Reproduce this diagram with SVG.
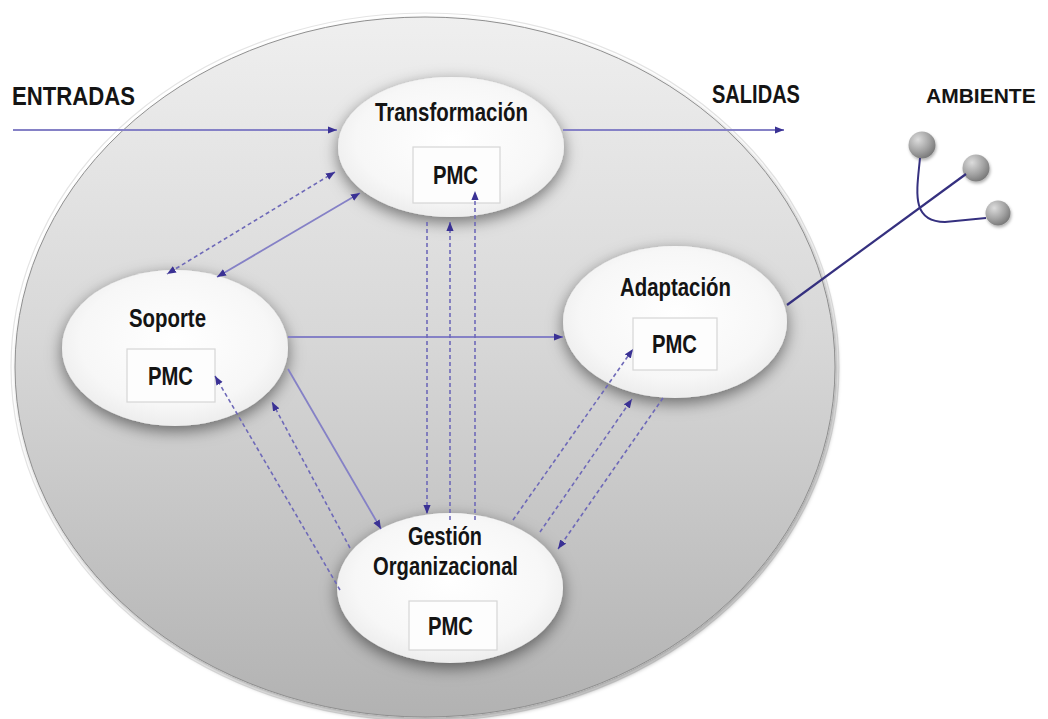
<svg xmlns="http://www.w3.org/2000/svg" width="1048" height="719" viewBox="0 0 1048 719">
<style>
.lbl{font-family:"Liberation Sans",Arial,sans-serif;font-weight:bold;font-size:25px;fill:#141414}
.pmc{font-family:"Liberation Sans",Arial,sans-serif;font-weight:bold;font-size:25px;fill:#141414}
.node{fill:url(#nodeG);filter:url(#sh)}
.box{fill:#fdfdfd;stroke:#d6d6d6;stroke-width:1.2}
.sol{fill:none;stroke:#8581c6;stroke-width:1.8}
.dash{fill:none;stroke:#6e69b8;stroke-width:1.6;stroke-dasharray:4 3}
.ball{fill:url(#ballG);filter:url(#bsh)}
</style>
<defs>
<linearGradient id="bigG" x1="0" y1="0" x2="0" y2="1">
<stop offset="0" stop-color="#efefef"/>
<stop offset="0.45" stop-color="#d8d8d8"/>
<stop offset="1" stop-color="#b2b2b2"/>
</linearGradient>
<radialGradient id="nodeG" cx="0.5" cy="0.45" r="0.6">
<stop offset="0" stop-color="#ffffff"/>
<stop offset="0.7" stop-color="#f7f7f7"/>
<stop offset="1" stop-color="#e9e9e9"/>
</radialGradient>
<radialGradient id="ballG" cx="0.35" cy="0.3" r="0.75">
<stop offset="0" stop-color="#dcdcdc"/>
<stop offset="0.6" stop-color="#a2a2a2"/>
<stop offset="1" stop-color="#767676"/>
</radialGradient>
<filter id="sh" x="-30%" y="-30%" width="160%" height="170%">
<feDropShadow dx="0" dy="5" stdDeviation="8" flood-color="#000" flood-opacity="0.5"/>
</filter>
<filter id="bigsh" x="-10%" y="-10%" width="120%" height="120%">
<feDropShadow dx="2" dy="3" stdDeviation="2" flood-color="#000" flood-opacity="0.35"/>
</filter>
<filter id="bsh" x="-50%" y="-50%" width="200%" height="200%">
<feDropShadow dx="1" dy="2" stdDeviation="1.5" flood-color="#000" flood-opacity="0.3"/>
</filter>
<marker id="ah" viewBox="0 0 10 8" refX="10" refY="4" markerWidth="9" markerHeight="8" markerUnits="userSpaceOnUse" orient="auto-start-reverse">
<path d="M0,0 L10,4 L0,8 z" fill="#3a3194"/>
</marker>
</defs>

<g id="system">
<ellipse cx="425" cy="367" rx="414" ry="354" fill="none" stroke="#e4e4e4" stroke-width="1.2"/>
<ellipse cx="425" cy="367" rx="410" ry="350" fill="url(#bigG)" stroke="#8f8f8f" stroke-width="1" filter="url(#bigsh)"/>
</g>

<g id="labels">
<text class="lbl" x="12" y="105" textLength="123" lengthAdjust="spacingAndGlyphs">ENTRADAS</text>
<text class="lbl" x="712" y="103" textLength="88" lengthAdjust="spacingAndGlyphs">SALIDAS</text>
<text class="lbl" x="926" y="103" style="font-size:21px">AMBIENTE</text>
</g>

<g id="transformacion">
<ellipse class="node" cx="451" cy="147" rx="113" ry="70"/>
<text class="lbl" x="375" y="121" textLength="153" lengthAdjust="spacingAndGlyphs">Transformación</text>
<rect class="box" x="413" y="147" width="87" height="56"/>
<text class="pmc" x="433" y="184" textLength="45" lengthAdjust="spacingAndGlyphs">PMC</text>
</g>

<g id="soporte">
<ellipse class="node" cx="175" cy="348" rx="113" ry="78"/>
<text class="lbl" x="129" y="327" textLength="77" lengthAdjust="spacingAndGlyphs">Soporte</text>
<rect class="box" x="127" y="349" width="88" height="53"/>
<text class="pmc" x="148" y="385" textLength="45" lengthAdjust="spacingAndGlyphs">PMC</text>
</g>

<g id="adaptacion">
<ellipse class="node" cx="675" cy="322" rx="112" ry="76"/>
<text class="lbl" x="620" y="296" textLength="111" lengthAdjust="spacingAndGlyphs">Adaptación</text>
<rect class="box" x="633" y="318" width="84" height="52"/>
<text class="pmc" x="652" y="353" textLength="45" lengthAdjust="spacingAndGlyphs">PMC</text>
</g>

<g id="gestion">
<ellipse class="node" cx="450" cy="588" rx="113" ry="75"/>
<text class="lbl" x="408" y="545" textLength="74" lengthAdjust="spacingAndGlyphs">Gestión</text>
<text class="lbl" x="373" y="575" textLength="145" lengthAdjust="spacingAndGlyphs">Organizacional</text>
<rect class="box" x="409" y="601" width="88" height="49"/>
<text class="pmc" x="428" y="635" textLength="45" lengthAdjust="spacingAndGlyphs">PMC</text>
</g>

<g id="ambiente">
<circle class="ball" cx="922" cy="145" r="13.5"/>
<circle class="ball" cx="976" cy="168" r="13.5"/>
<circle class="ball" cx="998" cy="213" r="12.5"/>
</g>

<g id="connectors">
<path class="sol" d="M13 130 H337" marker-end="url(#ah)"/>
<path class="sol" d="M563 130 H784" marker-end="url(#ah)"/>
<path class="dash" d="M335 172 L167 274" marker-start="url(#ah)" marker-end="url(#ah)"/>
<path class="sol" d="M360 193 L217 277" marker-start="url(#ah)" marker-end="url(#ah)"/>
<path class="sol" d="M288 337 H563" marker-end="url(#ah)"/>
<path class="sol" d="M288 369 L381 529" marker-end="url(#ah)"/>
<path class="dash" d="M340 590 L215 376" marker-end="url(#ah)"/>
<path class="dash" d="M350 548 L272 402" marker-end="url(#ah)"/>
<path class="dash" d="M427 222 V514" marker-end="url(#ah)"/>
<path class="dash" d="M450 520 V222" marker-end="url(#ah)"/>
<path class="dash" d="M475 520 V191" marker-end="url(#ah)"/>
<path class="dash" d="M513 520 L633 349" marker-end="url(#ah)"/>
<path class="dash" d="M540 532 L632 399" marker-end="url(#ah)"/>
<path class="dash" d="M663 398 L558 549" marker-end="url(#ah)"/>
<path d="M787 305 L966 174" fill="none" stroke="#35307f" stroke-width="2.2"/>
<path d="M920 158 C917 190 910 222 945 222 L986 218" fill="none" stroke="#35307f" stroke-width="2"/>
</g>
</svg>
